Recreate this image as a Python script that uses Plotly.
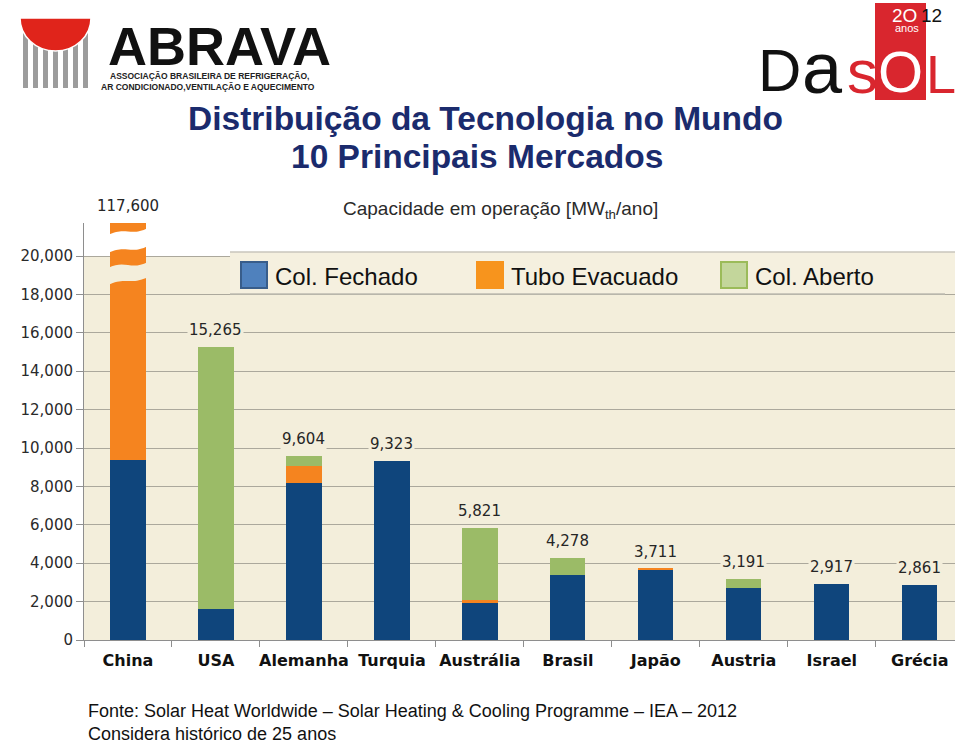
import plotly.graph_objects as go

# ---------------- data ----------------
countries = ["China", "USA", "Alemanha", "Turquia", "Austrália", "Brasil",
             "Japão", "Austria", "Israel", "Grécia"]
col_fechado = [9400, 1620, 8180, 9323, 1950, 3385, 3650, 2690, 2917, 2861]
tubo_evacuado = [108200, 0, 880, 0, 130, 0, 61, 0, 0, 0]
col_aberto = [0, 13645, 544, 0, 3741, 893, 0, 501, 0, 0]
totals = [117600, 15265, 9604, 9323, 5821, 4278, 3711, 3191, 2917, 2861]
y_ticks = list(range(0, 20001, 2000))

# ---------------- geometry helpers (pixel -> paper) ----------------
W, H = 960, 744
X0, X1, Y0, Y1 = 84, 955, 640, 223
YMAX = (Y0 - Y1) / 19.2 * 1000.0


def px(x):
    return (x - X0) / (X1 - X0)


def py(y):
    return (Y0 - y) / (Y0 - Y1)


def pt(x, y):
    return f"{px(x):.5f},{py(y):.5f}"


BLUE = "#0F457C"
ORANGE = "#F5841F"
GREEN = "#9BBB67"
BEIGE = "#F3EEDB"
GRID = "#ABA89C"
FONT = "DejaVu Sans"
ARIAL = "Liberation Sans"

fig = go.Figure()
fig.add_bar(x=countries, y=col_fechado, name="Col. Fechado", marker_color=BLUE,
            marker_line_width=0, width=0.4)
fig.add_bar(x=countries, y=tubo_evacuado, name="Tubo Evacuado", marker_color=ORANGE,
            marker_line_width=0, width=0.4)
fig.add_bar(x=countries, y=col_aberto, name="Col. Aberto", marker_color=GREEN,
            marker_line_width=0, width=0.4)

shapes = []
annotations = []

# beige chart background up to 20,000
shapes.append(dict(type="rect", xref="paper", yref="y", x0=0, x1=1, y0=0, y1=20000,
                   fillcolor=BEIGE, line_width=0, layer="below"))


# axis break (wavy bands) on the China bar
def band(xl, xr, tl, tr, bl, br):
    w = xr - xl
    return ("M " + pt(xl, tl) +
            " C " + pt(xl + w * 0.45, tl - 9) + " " + pt(xr - w * 0.45, tr + 9) + " " + pt(xr, tr) +
            " L " + pt(xr, br) +
            " C " + pt(xr - w * 0.45, br + 9) + " " + pt(xl + w * 0.45, bl - 9) + " " + pt(xl, bl) +
            " Z")


cx = X0 + 44  # China centre
shapes.append(dict(type="path", xref="paper", yref="paper",
                   path=band(cx - 20, cx + 20, 235, 228, 253, 246),
                   fillcolor="white", line_width=0, layer="above"))
shapes.append(dict(type="path", xref="paper", yref="paper",
                   path=band(cx - 20, cx + 20, 268, 262, 285, 277),
                   fillcolor=BEIGE, line_width=0, layer="above"))

# legend box
shapes.append(dict(type="rect", xref="paper", yref="paper", x0=px(230), x1=px(955),
                   y0=py(294), y1=py(252), fillcolor="#F5F0DF", line_width=0, layer="above"))
shapes.append(dict(type="line", xref="paper", yref="paper", x0=px(230), x1=px(955),
                   y0=py(252), y1=py(252), line=dict(color="#C8C6BC", width=1.5)))
shapes.append(dict(type="line", xref="paper", yref="paper", x0=px(230), x1=px(945),
                   y0=py(294), y1=py(294), line=dict(color="#BDBBB0", width=1.5)))

legend_items = [("Col. Fechado", 241, "#4F81BD", "#385D8A"),
                ("Tubo Evacuado", 477, "#F7941D", "#F7941D"),
                ("Col. Aberto", 721, "#C3D69B", "#9BBB59")]
for name, lx, fc, lc in legend_items:
    shapes.append(dict(type="rect", xref="paper", yref="paper", x0=px(lx), x1=px(lx + 26),
                       y0=py(288), y1=py(262), fillcolor=fc, line=dict(color=lc, width=2)))
    annotations.append(dict(xref="paper", yref="paper", x=px(lx + 32), y=py(276),
                            xanchor="left", yanchor="middle", showarrow=False, text=name,
                            font=dict(family=ARIAL, size=24, color="#111111")))

# value labels
for c, t in zip(countries, totals):
    if t > YMAX:
        annotations.append(dict(x=c, xref="x", yref="paper", y=1, yanchor="bottom", yshift=6,
                                showarrow=False, text=f"{t:,}", bgcolor="white",
                                font=dict(family=FONT, size=15, color="#262626")))
    else:
        annotations.append(dict(x=c, y=t, xref="x", yref="y", yanchor="bottom", yshift=6,
                                showarrow=False, text=f"{t:,}", bgcolor=BEIGE,
                                font=dict(family=FONT, size=15, color="#262626")))

# sub title
annotations.append(dict(xref="paper", yref="paper", x=px(500), y=py(210), xanchor="center",
                        yanchor="middle", showarrow=False,
                        text="Capacidade em operação [MW<sub>th</sub>/ano]",
                        font=dict(family=ARIAL, size=19, color="#2A2A2A")))

# main title
annotations.append(dict(xref="paper", yref="paper", x=px(485), y=py(118), xanchor="center",
                        yanchor="middle", showarrow=False,
                        text="<b>Distribuição da Tecnologia no Mundo</b>",
                        font=dict(family=ARIAL, size=33.5, color="#1B2B6D")))
annotations.append(dict(xref="paper", yref="paper", x=px(477), y=py(156), xanchor="center",
                        yanchor="middle", showarrow=False,
                        text="<b>10 Principais Mercados</b>",
                        font=dict(family=ARIAL, size=33.5, color="#1B2B6D")))

# footer
annotations.append(dict(xref="paper", yref="paper", x=px(86), y=py(711), xanchor="left",
                        yanchor="middle", showarrow=False,
                        text="Fonte: Solar Heat Worldwide – Solar Heating & Cooling Programme – IEA – 2012",
                        font=dict(family=ARIAL, size=18, color="#111111")))
annotations.append(dict(xref="paper", yref="paper", x=px(86), y=py(734), xanchor="left",
                        yanchor="middle", showarrow=False,
                        text="Considera histórico de 25 anos",
                        font=dict(family=ARIAL, size=18, color="#111111")))

# ---------------- ABRAVA logo ----------------
for i in range(7):
    bx = 23 + i * 10
    shapes.append(dict(type="rect", xref="paper", yref="paper", x0=px(bx), x1=px(bx + 5),
                       y0=py(88), y1=py(32), fillcolor="#9C9C9C", line_width=0))
rx0, rx1, ry0, ry1 = 20, 91, 18, 51
rw = rx1 - rx0
disc = ("M " + pt(rx0, ry0) + " L " + pt(rx1, ry0) +
        " C " + pt(rx1, ry0 + 18) + " " + pt(rx0 + rw * 0.78, ry1) + " " + pt(rx0 + rw / 2, ry1) +
        " C " + pt(rx0 + rw * 0.22, ry1) + " " + pt(rx0, ry0 + 18) + " " + pt(rx0, ry0) + " Z")
shapes.append(dict(type="path", xref="paper", yref="paper", path=disc,
                   fillcolor="#E0241B", line=dict(color="white", width=1.5)))
annotations.append(dict(xref="paper", yref="paper", x=px(106), y=py(78), xanchor="left",
                        yanchor="bottom", showarrow=False, text="<b>ABRAVA</b>",
                        font=dict(family=ARIAL, size=54, color="#111111")))
annotations.append(dict(xref="paper", yref="paper", x=px(209), y=py(76), xanchor="center",
                        yanchor="middle", showarrow=False,
                        text="<b>ASSOCIAÇÃO BRASILEIRA DE REFRIGERAÇÃO,</b>",
                        font=dict(family=ARIAL, size=8.5, color="#222222")))
annotations.append(dict(xref="paper", yref="paper", x=px(208), y=py(87), xanchor="center",
                        yanchor="middle", showarrow=False,
                        text="<b>AR CONDICIONADO,VENTILAÇÃO E AQUECIMENTO</b>",
                        font=dict(family=ARIAL, size=8.5, color="#222222")))

# ---------------- DASOL logo ----------------
RED = "#D9262E"
shapes.append(dict(type="rect", xref="paper", yref="paper", x0=px(875), x1=px(926),
                   y0=py(100), y1=py(3), fillcolor=RED, line_width=0))
annotations.append(dict(xref="paper", yref="paper", x=px(756), y=py(106), xanchor="left",
                        yanchor="bottom", showarrow=False, text="D",
                        font=dict(family=ARIAL, size=60, color="#111111")))
annotations.append(dict(xref="paper", yref="paper", x=px(800), y=py(110), xanchor="left",
                        yanchor="bottom", showarrow=False, text="a",
                        font=dict(family=ARIAL, size=72, color="#111111")))
annotations.append(dict(xref="paper", yref="paper", x=px(845), y=py(108), xanchor="left",
                        yanchor="bottom", showarrow=False, text="s",
                        font=dict(family=ARIAL, size=62, color=RED)))
annotations.append(dict(xref="paper", yref="paper", x=px(900), y=py(106), xanchor="center",
                        yanchor="bottom", showarrow=False, text="O",
                        font=dict(family=ARIAL, size=58, color="white")))
annotations.append(dict(xref="paper", yref="paper", x=px(924), y=py(106), xanchor="left",
                        yanchor="bottom", showarrow=False, text="L",
                        font=dict(family=ARIAL, size=54, color=RED)))
annotations.append(dict(xref="paper", yref="paper", x=px(919), y=py(15), xanchor="right",
                        yanchor="middle", showarrow=False, text="2O",
                        font=dict(family=ARIAL, size=19, color="white")))
annotations.append(dict(xref="paper", yref="paper", x=px(919), y=py(15), xanchor="left",
                        yanchor="middle", showarrow=False, text="12",
                        font=dict(family=ARIAL, size=19, color="#111111")))
annotations.append(dict(xref="paper", yref="paper", x=px(907), y=py(28), xanchor="center",
                        yanchor="middle", showarrow=False, text="anos",
                        font=dict(family=ARIAL, size=11, color="white")))

fig.update_layout(
    width=W, height=H,
    margin=dict(l=X0, r=W - X1, t=Y1, b=H - Y0, pad=0),
    barmode="stack",
    showlegend=False,
    paper_bgcolor="white",
    plot_bgcolor="rgba(0,0,0,0)",
    shapes=shapes,
    annotations=annotations,
    bargap=0.6,
)
fig.update_xaxes(range=[-0.5, 9.4], showline=True, linecolor="#8E8E8E", linewidth=1,
                 ticks="outside", tickson="boundaries", ticklen=6, tickcolor="#8E8E8E",
                 tickangle=0, ticklabelstandoff=6,
                 tickfont=dict(family=FONT, size=16, color="#111111", weight="bold"),
                 showgrid=False, zeroline=False, fixedrange=True)
fig.update_yaxes(range=[0, YMAX], tickvals=y_ticks, tickformat=",d", showline=True,
                 linecolor="#8E8E8E", linewidth=1, ticks="outside", ticklen=7,
                 tickcolor="#8E8E8E", showgrid=True, gridcolor=GRID, gridwidth=1,
                 zeroline=False, tickfont=dict(family=FONT, size=15, color="#2A2A2A"),
                 fixedrange=True)

fig.write_html("out.html", config={"displayModeBar": False},
               post_script="document.body.style.margin='0';")
